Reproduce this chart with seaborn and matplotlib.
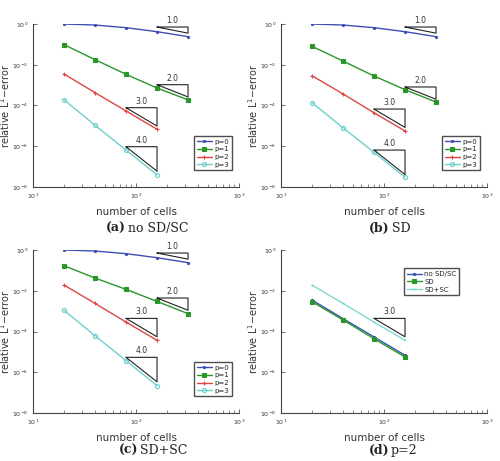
import numpy as np
import pandas as pd
import matplotlib
matplotlib.use("Agg")
import matplotlib.pyplot as plt
import seaborn as sns

# ---------------- data ----------------
cells5 = [20, 40, 80, 160, 320]
cells4 = [20, 40, 80, 160]

a_p0 = [1.0, 0.89, 0.66, 0.42, 0.24]
a_p1 = [0.097, 0.0178, 3.4e-3, 7.2e-4, 1.9e-4]
a_p2 = [3.5e-3, 4.3e-4, 5.4e-5, 6.8e-6]
a_p3 = [1.9e-4, 1.07e-5, 6.5e-7, 4.0e-8]

b_p0 = [1.0, 0.89, 0.66, 0.42, 0.24]
b_p1 = [0.080, 0.0152, 2.8e-3, 6.0e-4, 1.48e-4]
b_p2 = [2.9e-3, 3.7e-4, 4.4e-5, 5.6e-6]
b_p3 = [1.37e-4, 8.1e-6, 5.0e-7, 3.0e-8]

c_p0 = [1.0, 0.89, 0.66, 0.42, 0.24]
c_p1 = [0.17, 0.042, 0.0117, 3.0e-3, 7.5e-4]
c_p2 = [0.019, 2.4e-3, 2.9e-4, 3.7e-5]
c_p3 = [1.1e-3, 6.2e-5, 3.7e-6, 2.2e-7]

d_noSDSC = [3.5e-3, 4.3e-4, 5.4e-5, 6.8e-6]
d_SD = [2.9e-3, 3.7e-4, 4.4e-5, 5.6e-6]
d_SDSC = [0.019, 2.4e-3, 2.9e-4, 3.7e-5]

p_labels = ["p=0", "p=1", "p=2", "p=3"]
d_labels = ["no SD/SC", "SD", "SD+SC"]

# slope triangles: (x_left, x_right, y_top, slope)
tri_a = [(160, 320, 0.71, 1.0), (160, 320, 1.05e-3, 2.0), (80, 160, 7.8e-5, 3.0), (80, 160, 9.5e-7, 4.0)]
tri_b = [(160, 320, 0.71, 1.0), (160, 320, 8.1e-4, 2.0), (80, 160, 6.7e-5, 3.0), (80, 160, 6.5e-7, 4.0)]
tri_c = [(160, 320, 0.71, 1.0), (160, 320, 4.4e-3, 2.0), (80, 160, 4.4e-4, 3.0), (80, 160, 5.4e-6, 4.0)]
tri_d = [(80, 160, 4.4e-4, 3.0)]

captions = [("(a)", "no SD/SC"), ("(b)", "SD"), ("(c)", "SD+SC"), ("(d)", "p=2")]

# ---------------- style ----------------
sns.set_style("ticks")
plt.rcParams['font.family'] = ['DejaVu Sans']
plt.rcParams['xtick.direction'] = 'in'
plt.rcParams['ytick.direction'] = 'in'

colors = ["#3d4fb5", "#2a962a", "#e04545", "#6fd0cc"]
markers = [".", "s", "+", "o"]
msizes = [3, 3, 3.5, 3]
dcolors = ["#3d4fb5", "#2a962a", "#7fd8d2"]
dmarkers = [".", "s", "+"]

fig = plt.figure(figsize=(5.0, 4.61), dpi=100)
W, H = 500.0, 461.0

def ax_at(x0, x1, ytop, ybot):
    return fig.add_axes([x0 / W, 1 - ybot / H, (x1 - x0) / W, (ybot - ytop) / H])

axes = [
    ax_at(33, 239, 24, 187),
    ax_at(281, 487, 24, 187),
    ax_at(33, 239, 250, 413),
    ax_at(281, 487, 250, 413),
]

def draw_series(ax, xs, ys, label, color, marker, ms):
    df = pd.DataFrame({"cells": xs, "err": ys})
    sns.lineplot(data=df, x="cells", y="err", ax=ax, color=color, marker=marker,
                 markersize=ms, linewidth=1.0, label=label,
                 markeredgecolor=color, markerfacecolor=color if marker != "o" else "none",
                 markeredgewidth=0.8)

def draw_tri(ax, tris):
    for xl, xr, yt, s in tris:
        yb = yt * (xl / xr) ** s
        ax.plot([xl, xr, xr, xl], [yt, yt, yb, yt], color="#222222", lw=0.8)
        xm = np.sqrt(xl * xr)
        ax.text(xm, yt * 1.25, f"{s:.1f}", ha="center", va="bottom", fontsize=5.5, color="#333333")

def style_ax(ax):
    ax.set_xscale("log")
    ax.set_yscale("log")
    ax.set_xlim(10, 1000)
    ax.set_ylim(1e-8, 1)
    ax.set_yticks([1e0, 1e-2, 1e-4, 1e-6, 1e-8])
    ax.yaxis.set_minor_locator(matplotlib.ticker.NullLocator())
    ax.tick_params(axis="both", which="major", labelsize=4.5, length=3, width=0.6, colors="#555555",
                   labelcolor="#333333")
    ax.tick_params(axis="x", which="minor", length=2, width=0.5, colors="#555555")
    for side in ["top", "right"]:
        ax.spines[side].set_visible(False)
    for side in ["left", "bottom"]:
        ax.spines[side].set_color("#444444")
        ax.spines[side].set_linewidth(0.8)
    ax.set_xlabel("number of cells", fontsize=7.5, color="#333333", labelpad=4)
    ax.set_ylabel("relative L$^1$\u2212error", fontsize=7, color="#333333")
    ax.yaxis.set_label_coords(-0.1, 0.5)

pdata = [
    (a_p0, a_p1, a_p2, a_p3),
    (b_p0, b_p1, b_p2, b_p3),
    (c_p0, c_p1, c_p2, c_p3),
]
tris = [tri_a, tri_b, tri_c]

for i in range(3):
    ax = axes[i]
    series = pdata[i]
    for k in range(4):
        xs = cells5 if len(series[k]) == 5 else cells4
        draw_series(ax, xs, series[k], p_labels[k], colors[k], markers[k], msizes[k])
    draw_tri(ax, tris[i])
    style_ax(ax)
    leg = ax.legend(loc="lower left", bbox_to_anchor=(0.765, 0.08), fontsize=5, frameon=True,
                    fancybox=False, edgecolor="#222222", handlelength=2.2, borderpad=0.4,
                    labelspacing=0.25, handletextpad=0.3)
    leg.get_frame().set_linewidth(1.0)

ax = axes[3]
for k, ys in enumerate([d_noSDSC, d_SD, d_SDSC]):
    draw_series(ax, cells4, ys, d_labels[k], dcolors[k], dmarkers[k], 3 if k != 2 else 2)
draw_tri(ax, tri_d)
style_ax(ax)
leg = ax.legend(loc="lower left", bbox_to_anchor=(0.58, 0.70), fontsize=5, frameon=True,
                fancybox=False, edgecolor="#222222", handlelength=2.2, borderpad=0.4,
                labelspacing=0.25, handletextpad=0.3)
leg.get_frame().set_linewidth(1.0)

# captions
cap_pos = [(126, 228), (390, 228), (138, 450), (389, 450)]
for (lab, txt), (cx, cy) in zip(captions, cap_pos):
    fig.text(cx / W, 1 - cy / H, lab, ha="right", va="center", fontsize=9,
             fontweight="bold", family="DejaVu Serif", color="#222222")
    fig.text((cx + 2) / W, 1 - cy / H, txt, ha="left", va="center", fontsize=9,
             family="DejaVu Serif", color="#222222")

fig.savefig("out.png", dpi=100)
